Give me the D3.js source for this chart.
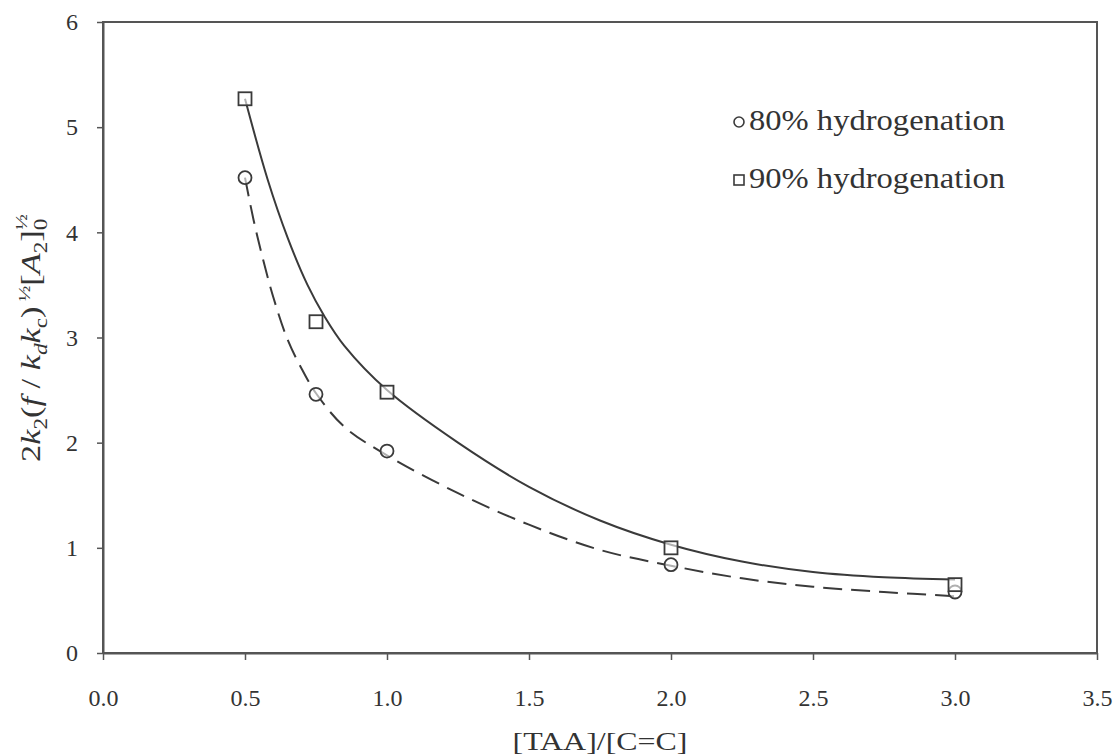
<!DOCTYPE html>
<html>
<head>
<meta charset="utf-8">
<script src="https://cdn.jsdelivr.net/npm/d3@7"></script>
<style>
  html, body { margin: 0; padding: 0; background: #fff; }
  svg { display: block; }
  svg text { font-family: "Liberation Serif", "Times New Roman", Tinos, Times, serif !important; fill: #333; }
</style>
</head>
<body>
<svg id="chart" width="1116" height="756"></svg>
<script>
// ---- data ----
const xPoints = [0.5, 0.75, 1.0, 2.0, 3.0];
const y80 = [4.52, 2.46, 1.92, 0.84, 0.58];   // circles, 80% hydrogenation
const y90 = [5.27, 3.15, 2.48, 1.00, 0.65];   // squares, 90% hydrogenation

// fitted curves
const fit90X = [0.5, 0.58, 0.65, 0.72, 0.78, 0.85, 1.0, 1.25, 1.5, 1.75, 2.0, 2.25, 2.5, 2.75, 3.0];
const fit90Y = [5.27, 4.50, 3.95, 3.50, 3.20, 2.92, 2.50, 2.0, 1.58, 1.26, 1.03, 0.87, 0.77, 0.72, 0.70];
const fit80X = [0.5, 0.53, 0.56, 0.6, 0.65, 0.7, 0.75, 0.85, 1.0, 1.25, 1.5, 1.75, 2.0, 2.25, 2.5, 2.75, 3.0];
const fit80Y = [4.52, 4.12, 3.78, 3.38, 2.98, 2.70, 2.47, 2.15, 1.88, 1.52, 1.22, 0.98, 0.83, 0.71, 0.63, 0.58, 0.54];

const xTicks = [0.0, 0.5, 1.0, 1.5, 2.0, 2.5, 3.0, 3.5];
const yTicks = [0, 1, 2, 3, 4, 5, 6];
const legendLabels = ["80% hydrogenation", "90% hydrogenation"];
const xTitle = "[TAA]/[C=C]";

// ---- layout ----
const svg = d3.select("#chart");
const L = 103, R = 1097, T = 22, B = 653;
const x = d3.scaleLinear().domain([0, 3.5]).range([L, R]);
const y = d3.scaleLinear().domain([0, 6]).range([B, T]);
const ink = "#3a3a3a";

// frame
svg.append("rect").attr("x", L).attr("y", T).attr("width", R - L).attr("height", B - T)
  .attr("fill", "none").attr("stroke", "#555").attr("stroke-width", 2);

// axes
const xAxis = svg.append("g").attr("transform", `translate(0,${B})`)
  .call(d3.axisBottom(x).tickValues(xTicks).tickFormat(d3.format(".1f")).tickSize(7).tickSizeOuter(0).tickPadding(29));
const yAxis = svg.append("g").attr("transform", `translate(${L},0)`)
  .call(d3.axisLeft(y).tickValues(yTicks).tickFormat(d3.format("d")).tickSize(6).tickSizeOuter(0).tickPadding(19));
[xAxis, yAxis].forEach(g => {
  g.attr("font-family", null);
  g.select(".domain").attr("stroke", "#555").attr("stroke-width", 2);
  g.selectAll(".tick line").attr("stroke", "#555").attr("stroke-width", 1.5);
  g.selectAll(".tick text").attr("font-size", 24).attr("fill", "#333");
});

// x title
svg.append("text").attr("x", (L + R) / 2).attr("y", 750).attr("text-anchor", "middle")
  .attr("font-size", 26).attr("textLength", 175).attr("lengthAdjust", "spacingAndGlyphs").text(xTitle);

// y title: 2k2(f / kdkc)½[A2]0½
const yt = svg.append("text").attr("transform", "translate(40,338) rotate(-90)")
  .attr("text-anchor", "middle").attr("font-size", 28)
  .attr("textLength", 248).attr("lengthAdjust", "spacingAndGlyphs");
const parts = [
  {t: "2"}, {t: "k", i: 1}, {t: "2", sub: 1}, {t: "(", up: 1}, {t: "f", i: 1}, {t: " / "},
  {t: "k", i: 1}, {t: "d", i: 1, sub: 1}, {t: "k", i: 1, up: 1}, {t: "c", sub: 1}, {t: ")", up: 1},
  {t: " ½", sup: 1}, {t: "[", down: 1}, {t: "A", i: 1}, {t: "2", sub: 1}, {t: "]", up: 1},
  {t: "0", sub: 1}, {t: "½", supStack: 1}
];
let level = 0;
parts.forEach(p => {
  const s = yt.append("tspan").text(p.t);
  if (p.i) s.attr("font-style", "italic");
  let target = 0;
  if (p.sub) { target = 7; s.attr("font-size", 19); }
  if (p.sup) { target = -10; s.attr("font-size", 17); }
  if (p.supStack) { target = -13; s.attr("font-size", 17).attr("dx", -9); }
  const dy = target - level;
  if (dy !== 0) s.attr("dy", dy);
  level = target;
});

// curves
const line = d3.line().x(d => x(d[0])).y(d => y(d[1])).curve(d3.curveCatmullRom.alpha(0.5));
svg.append("path").datum(d3.zip(fit90X, fit90Y)).attr("d", line)
  .attr("fill", "none").attr("stroke", ink).attr("stroke-width", 2);
svg.append("path").datum(d3.zip(fit80X, fit80Y)).attr("d", line)
  .attr("fill", "none").attr("stroke", ink).attr("stroke-width", 2).attr("stroke-dasharray", "19,9");

// markers
svg.append("g").selectAll("circle").data(d3.zip(xPoints, y80)).join("circle")
  .attr("cx", d => x(d[0])).attr("cy", d => y(d[1])).attr("r", 6.5)
  .attr("fill", "#fff").attr("fill-opacity", 0.6).attr("stroke", ink).attr("stroke-width", 1.8);
svg.append("g").selectAll("rect").data(d3.zip(xPoints, y90)).join("rect")
  .attr("x", d => x(d[0]) - 6.5).attr("y", d => y(d[1]) - 6.5).attr("width", 13).attr("height", 13)
  .attr("fill", "#fff").attr("fill-opacity", 0.6).attr("stroke", ink).attr("stroke-width", 1.8);

// legend
const lg = svg.append("g");
lg.append("circle").attr("cx", 739).attr("cy", 122).attr("r", 5).attr("fill", "none")
  .attr("stroke", ink).attr("stroke-width", 1.6);
lg.append("rect").attr("x", 734).attr("y", 175).attr("width", 10).attr("height", 10).attr("fill", "none")
  .attr("stroke", ink).attr("stroke-width", 1.6);
lg.selectAll("text").data(legendLabels).join("text")
  .attr("x", 749).attr("y", (d, i) => 130 + i * 58)
  .attr("font-size", 29).attr("textLength", 256).attr("lengthAdjust", "spacingAndGlyphs")
  .text(d => d);
</script>
</body>
</html>
